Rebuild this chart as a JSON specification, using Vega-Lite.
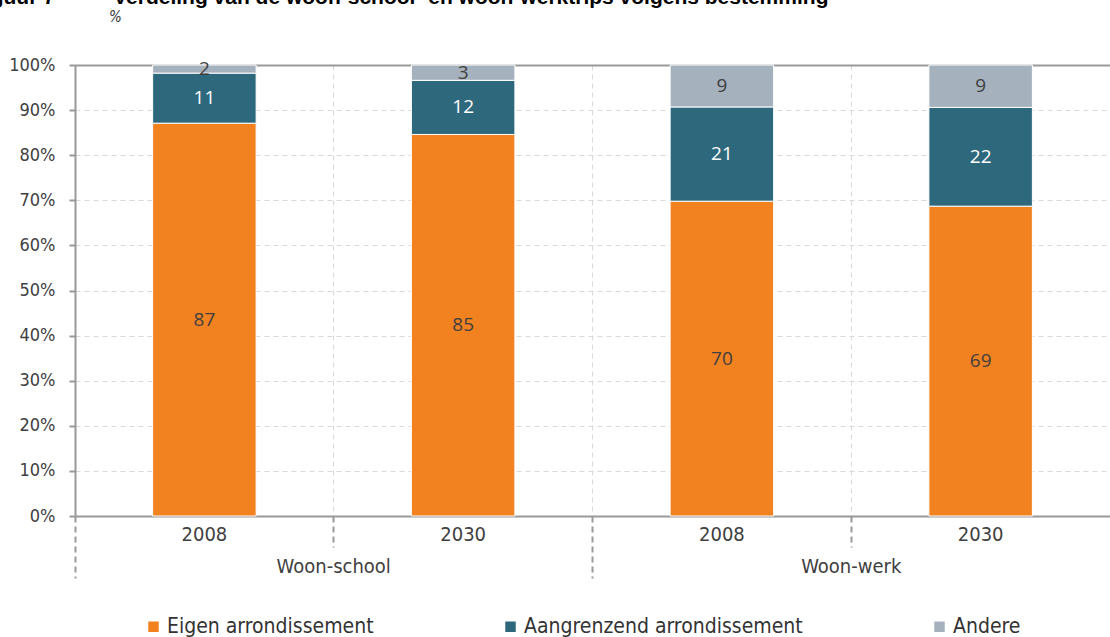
{
  "$schema": "https://vega.github.io/schema/vega-lite/v6.json",
  "autosize": {"type": "none"},
  "padding": {"left": 75, "top": 65, "right": 0, "bottom": 121},
  "width": 1035,
  "height": 451,
  "background": "white",
  "title": {
    "text": "Figuur 7\u00a0\u00a0\u00a0\u00a0\u00a0\u00a0\u00a0\u00a0\u00a0\u00a0Verdeling van de woon-school- en woon-werktrips volgens bestemming",
    "subtitle": "\u200b\u00a0\u00a0\u00a0\u00a0\u00a0\u00a0\u00a0\u00a0\u00a0\u00a0\u00a0\u00a0\u00a0\u00a0\u00a0\u00a0\u00a0\u00a0\u00a0\u00a0\u00a0\u00a0\u00a0\u00a0\u00a0\u00a0\u00a0\u00a0\u00a0\u00a0\u00a0\u00a0%",
    "anchor": "start",
    "frame": "group",
    "dx": -103,
    "offset": 31,
    "font": "Liberation Sans",
    "fontSize": 21,
    "fontWeight": "bold",
    "color": "#000000",
    "subtitleFont": "DejaVu Sans Condensed",
    "subtitleFontStyle": "italic",
    "subtitleFontSize": 15,
    "subtitleColor": "#333333",
    "subtitlePadding": 2
  },
  "data": {
    "values": [
      {"cat": "Woon-school 2008", "series": "Eigen arrondissement", "idx": 1, "value": 87.1},
      {"cat": "Woon-school 2008", "series": "Aangrenzend arrondissement", "idx": 2, "value": 11.1},
      {"cat": "Woon-school 2008", "series": "Andere", "idx": 3, "value": 1.8},
      {"cat": "Woon-school 2030", "series": "Eigen arrondissement", "idx": 1, "value": 84.6},
      {"cat": "Woon-school 2030", "series": "Aangrenzend arrondissement", "idx": 2, "value": 12.0},
      {"cat": "Woon-school 2030", "series": "Andere", "idx": 3, "value": 3.4},
      {"cat": "Woon-werk 2008", "series": "Eigen arrondissement", "idx": 1, "value": 69.8},
      {"cat": "Woon-werk 2008", "series": "Aangrenzend arrondissement", "idx": 2, "value": 20.9},
      {"cat": "Woon-werk 2008", "series": "Andere", "idx": 3, "value": 9.3},
      {"cat": "Woon-werk 2030", "series": "Eigen arrondissement", "idx": 1, "value": 68.7},
      {"cat": "Woon-werk 2030", "series": "Aangrenzend arrondissement", "idx": 2, "value": 21.9},
      {"cat": "Woon-werk 2030", "series": "Andere", "idx": 3, "value": 9.4}
    ]
  },
  "resolve": {"axis": {"x": "independent"}},
  "layer": [
    {
      "mark": {"type": "bar", "stroke": "#ffffff", "strokeWidth": 1},
      "encoding": {
        "x": {
          "field": "cat", "type": "nominal", "sort": null,
          "scale": {"paddingInner": 0.6, "paddingOuter": 0.3},
          "axis": {
            "orient": "bottom",
            "title": null,
            "labelExpr": "split(datum.value, ' ')[1]",
            "labelAngle": 0,
            "ticks": false,
            "grid": false,
            "domainColor": "#999999",
            "domainWidth": 2,
            "labelFont": "DejaVu Sans Condensed",
            "labelFontSize": 20,
            "labelColor": "#404040",
            "labelPadding": 8
          }
        },
        "y": {
          "field": "value", "type": "quantitative", "stack": "zero",
          "scale": {"domain": [0, 100], "nice": false},
          "axis": {
            "title": null,
            "values": [0, 10, 20, 30, 40, 50, 60, 70, 80, 90, 100],
            "labelExpr": "datum.value + '%'",
            "grid": true,
            "gridDash": {"condition": {"test": "datum.value == 100", "value": []}, "value": [5, 4]},
            "gridColor": {"condition": {"test": "datum.value == 100", "value": "#999999"}, "value": "#d9d9d9"},
            "gridWidth": {"condition": {"test": "datum.value == 100", "value": 2}, "value": 1},
            "domainColor": "#999999",
            "domainWidth": 2,
            "tickColor": "#999999",
            "tickSize": 6,
            "tickWidth": 2,
            "labelFont": "DejaVu Sans Condensed",
            "labelFontSize": 18,
            "labelColor": "#404040",
            "labelPadding": 14
          }
        },
        "color": {
          "field": "series", "type": "nominal",
          "scale": {
            "domain": ["Eigen arrondissement", "Aangrenzend arrondissement", "Andere"],
            "range": ["#F28220", "#2D687D", "#A6B1BE"]
          },
          "legend": {
            "title": null,
            "orient": "none",
            "legendX": 68,
            "legendY": 551,
            "direction": "horizontal",
            "columns": 3,
            "columnPadding": 126,
            "symbolType": "square",
            "symbolSize": 110,
            "symbolStrokeWidth": 0,
            "symbolOpacity": 1,
            "labelFont": "DejaVu Sans Condensed",
            "labelFontSize": 21,
            "labelColor": "#333333",
            "labelOffset": 3,
            "labelLimit": 500
          }
        },
        "order": {"field": "idx", "type": "quantitative"}
      }
    },
    {
      "mark": {"type": "text", "font": "Open Sans", "fontSize": 19, "baseline": "middle", "align": "center"},
      "encoding": {
        "x": {
          "field": "cat", "type": "nominal", "sort": null,
          "axis": {
            "orient": "bottom",
            "title": null,
            "bandPosition": -0.75,
            "domain": false,
            "grid": true,
            "gridDash": [5, 4],
            "gridColor": "#d9d9d9",
            "gridWidth": 1,
            "ticks": true,
            "tickDash": [6, 4],
            "tickColor": "#999999",
            "tickWidth": 2,
            "tickSize": {"condition": {"test": "datum.value == 'Woon-school 2008' || datum.value == 'Woon-werk 2008'", "value": 62}, "value": 31},
            "labelExpr": "datum.value == 'Woon-school 2030' ? 'Woon-school' : (datum.value == 'Woon-werk 2030' ? 'Woon-werk' : '')",
            "labelOffset": -129.4,
            "labelAngle": 0,
            "labelFont": "DejaVu Sans Condensed",
            "labelFontSize": 20,
            "labelColor": "#404040",
            "labelPadding": 9
          }
        },
        "y": {"field": "value", "type": "quantitative", "stack": "zero", "bandPosition": 0.5},
        "order": {"field": "idx", "type": "quantitative"},
        "text": {"field": "value", "type": "quantitative", "format": ".0f"},
        "color": {"condition": {"test": "datum.series == 'Aangrenzend arrondissement'", "value": "#ffffff"}, "value": "#404040"}
      }
    }
  ],
  "config": {
    "view": {"stroke": null},
    "axis": {"labelOverlap": false}
  }
}
